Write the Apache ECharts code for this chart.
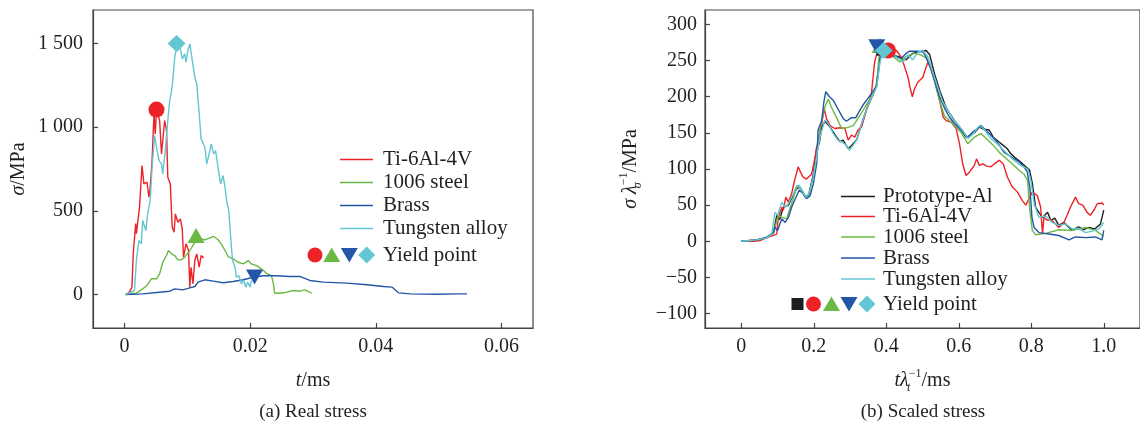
<!DOCTYPE html>
<html>
<head>
<meta charset="utf-8">
<title>Real and scaled stress</title>
<script src="https://cdn.jsdelivr.net/npm/echarts@6/dist/echarts.min.js"></script>
<style>
  html, body { margin: 0; padding: 0; background: #fff; }
  #chart { width: 1140px; height: 423px; }
</style>
</head>
<body>
<div id="chart"></div>
<script>
// ---------- (a) real stress: t [ms] vs sigma [MPa] ----------
const realMaterials = ['Ti-6Al-4V', '1006 steel', 'Brass', 'Tungsten alloy'];

const realTi = [[0.0002,0],[0.0008,14],[0.0012,44],[0.0014,245],[0.0018,424],[0.0019,364],[0.0024,522],[0.0028,771],[0.0031,661],[0.0036,671],[0.0039,581],[0.0041,641],[0.0044,800],[0.0047,1079],[0.0049,960],[0.0051,1100],[0.0056,1040],[0.0059,840],[0.0061,920],[0.0064,1040],[0.0067,980],[0.0069,700],[0.0073,661],[0.0076,402],[0.0079,372],[0.0081,482],[0.0085,432],[0.0089,452],[0.0092,392],[0.0094,223],[0.0098,303],[0.0102,263],[0.0104,44],[0.0106,163],[0.0109,64],[0.0112,203],[0.0115,243],[0.0119,163],[0.0122,233],[0.0126,219]];

const realSteel = [[0.0002,0],[0.0019,8],[0.0029,34],[0.0036,54],[0.0043,94],[0.0051,94],[0.0056,124],[0.0061,193],[0.0067,233],[0.0070,263],[0.0075,243],[0.0080,233],[0.0085,207],[0.0090,207],[0.0096,223],[0.0104,263],[0.0112,312],[0.0120,333],[0.0128,327],[0.0136,339],[0.0142,347],[0.0149,327],[0.0154,303],[0.0160,263],[0.0165,227],[0.0173,213],[0.0181,193],[0.0189,183],[0.0197,203],[0.0202,183],[0.0210,173],[0.0218,153],[0.0226,127],[0.0234,113],[0.0237,64],[0.0239,8],[0.0247,8],[0.0258,14],[0.0269,24],[0.0279,20],[0.0287,28],[0.0298,8]];

const realBrass = [[0.0002,0],[0.0029,4],[0.0056,14],[0.0072,20],[0.0080,34],[0.0093,28],[0.0104,40],[0.0112,48],[0.0117,74],[0.0128,88],[0.0141,80],[0.0157,70],[0.0173,78],[0.0189,88],[0.0205,103],[0.0221,112],[0.0242,112],[0.0263,108],[0.0279,108],[0.0295,84],[0.0316,74],[0.0354,68],[0.0386,58],[0.0412,48],[0.0426,44],[0.0436,10],[0.0455,4],[0.0497,2],[0.0529,4],[0.0545,4]];

const realTungsten = [[0.0002,0],[0.0016,24],[0.0019,203],[0.0023,323],[0.0027,303],[0.0029,442],[0.0034,382],[0.0037,482],[0.0041,562],[0.0044,760],[0.0048,950],[0.0051,880],[0.0055,800],[0.0059,781],[0.0061,721],[0.0065,860],[0.0069,1040],[0.0072,1159],[0.0075,1219],[0.0077,1278],[0.0080,1418],[0.0083,1478],[0.0085,1458],[0.0088,1488],[0.0092,1408],[0.0096,1438],[0.0098,1388],[0.0101,1458],[0.0104,1498],[0.0106,1448],[0.0112,1298],[0.0115,1259],[0.0119,1080],[0.0122,930],[0.0128,880],[0.0131,781],[0.0136,860],[0.0138,900],[0.0142,840],[0.0145,860],[0.0149,760],[0.0153,661],[0.0157,711],[0.0160,641],[0.0163,551],[0.0166,502],[0.0169,342],[0.0172,203],[0.0176,163],[0.0178,103],[0.0182,113],[0.0186,64],[0.0190,84],[0.0193,44],[0.0196,74],[0.0200,44],[0.0202,84]];

// yield points, same order as realMaterials
const realYield = [[0.0051,1105],[0.0114,352],[0.0207,105],[0.0083,1500]];

const realTimeTicks = [0, 0.02, 0.04, 0.06];
const realStressTicks = [0, 500, 1000, 1500];

// ---------- (b) scaled stress: t/lambda_t [ms] vs sigma/lambda_sigma [MPa] ----------
const scaledMaterials = ['Prototype-Al', 'Ti-6Al-4V', '1006 steel', 'Brass', 'Tungsten alloy'];

const scaledProto = [[0,0],[0.043,2],[0.071,5],[0.089,12],[0.098,36],[0.106,30],[0.116,47],[0.13,50],[0.144,64],[0.153,73],[0.162,75],[0.176,63],[0.185,62],[0.199,93],[0.208,130],[0.215,135],[0.222,158],[0.231,166],[0.245,158],[0.263,144],[0.272,138],[0.281,140],[0.295,128],[0.305,133],[0.318,140],[0.327,154],[0.338,172],[0.35,188],[0.363,202],[0.372,214],[0.38,245],[0.387,262],[0.4,264],[0.415,258],[0.437,255],[0.455,251],[0.473,260],[0.49,262],[0.51,264],[0.52,258],[0.533,232],[0.55,205],[0.565,185],[0.588,167],[0.605,156],[0.62,144],[0.632,146],[0.645,151],[0.657,158],[0.668,155],[0.684,154],[0.695,144],[0.712,137],[0.722,133],[0.734,128],[0.742,122],[0.757,115],[0.77,110],[0.785,103],[0.795,99],[0.803,80],[0.812,47],[0.821,40],[0.831,33],[0.845,40],[0.854,29],[0.865,32],[0.876,22],[0.89,26],[0.913,15],[0.93,20],[0.945,16],[0.959,19],[0.975,17],[0.991,24],[1.0,43]];

const scaledTi = [[0,0],[0.036,0],[0.052,1],[0.071,5],[0.098,10],[0.102,33],[0.112,47],[0.116,43],[0.123,61],[0.13,54],[0.139,66],[0.146,82],[0.157,103],[0.17,89],[0.18,86],[0.194,93],[0.2,107],[0.206,123],[0.212,140],[0.222,163],[0.229,184],[0.235,170],[0.245,160],[0.258,156],[0.272,157],[0.286,156],[0.295,140],[0.304,147],[0.313,144],[0.322,154],[0.332,158],[0.345,181],[0.359,204],[0.368,248],[0.374,260],[0.39,266],[0.41,266],[0.428,264],[0.441,255],[0.451,241],[0.46,227],[0.465,214],[0.472,200],[0.478,211],[0.487,220],[0.501,227],[0.51,241],[0.515,248],[0.524,241],[0.533,223],[0.547,195],[0.557,172],[0.565,167],[0.579,165],[0.593,156],[0.602,135],[0.611,107],[0.62,91],[0.63,96],[0.643,105],[0.649,114],[0.657,105],[0.666,107],[0.677,104],[0.689,103],[0.698,107],[0.712,112],[0.723,107],[0.734,89],[0.748,75],[0.762,68],[0.776,56],[0.785,50],[0.794,59],[0.803,68],[0.817,63],[0.826,47],[0.831,10],[0.835,33],[0.844,29],[0.855,30],[0.867,24],[0.876,19],[0.89,26],[0.899,36],[0.908,47],[0.922,61],[0.931,52],[0.942,50],[0.954,40],[0.963,36],[0.973,43],[0.982,52],[0.996,53],[1.0,50]];

const scaledSteel = [[0,0],[0.043,2],[0.071,5],[0.089,12],[0.093,19],[0.102,36],[0.112,33],[0.125,31],[0.139,52],[0.153,75],[0.162,75],[0.176,61],[0.185,61],[0.199,89],[0.208,117],[0.217,154],[0.231,186],[0.24,197],[0.25,184],[0.263,171],[0.277,156],[0.29,157],[0.309,160],[0.322,170],[0.336,181],[0.35,193],[0.363,202],[0.374,216],[0.38,255],[0.386,272],[0.4,262],[0.418,256],[0.437,248],[0.455,256],[0.478,260],[0.495,258],[0.511,253],[0.525,236],[0.547,195],[0.56,174],[0.574,167],[0.59,159],[0.606,151],[0.625,135],[0.643,144],[0.661,149],[0.68,140],[0.695,133],[0.712,123],[0.73,115],[0.748,107],[0.767,98],[0.78,93],[0.79,84],[0.796,43],[0.803,15],[0.812,9],[0.84,11],[0.876,16],[0.913,15],[0.95,19],[0.977,15],[1.0,7]];

const scaledBrass = [[0,0],[0.043,2],[0.071,6],[0.089,12],[0.093,19],[0.1,15],[0.112,31],[0.121,26],[0.13,33],[0.139,47],[0.151,61],[0.16,71],[0.17,66],[0.18,59],[0.19,63],[0.199,80],[0.208,107],[0.212,154],[0.222,167],[0.228,193],[0.233,207],[0.243,200],[0.254,195],[0.269,181],[0.281,170],[0.29,166],[0.304,171],[0.316,171],[0.327,181],[0.338,190],[0.35,198],[0.363,207],[0.374,216],[0.38,240],[0.385,262],[0.395,266],[0.41,262],[0.419,257],[0.428,255],[0.441,253],[0.455,260],[0.464,263],[0.478,263],[0.49,263],[0.501,262],[0.51,255],[0.524,237],[0.533,223],[0.547,200],[0.561,184],[0.574,172],[0.588,163],[0.602,156],[0.615,149],[0.624,144],[0.638,151],[0.652,156],[0.661,160],[0.67,156],[0.684,149],[0.698,142],[0.712,133],[0.725,123],[0.739,119],[0.753,114],[0.766,110],[0.78,103],[0.789,96],[0.796,75],[0.802,33],[0.808,19],[0.821,12],[0.849,10],[0.876,8],[0.904,2],[0.922,6],[0.95,5],[0.977,6],[0.995,2],[1.0,15]];

const scaledTungsten = [[0,0],[0.043,2],[0.071,5],[0.084,10],[0.093,40],[0.1,36],[0.112,54],[0.121,47],[0.13,52],[0.144,66],[0.153,77],[0.16,77],[0.171,66],[0.18,61],[0.19,70],[0.199,89],[0.208,117],[0.217,144],[0.231,168],[0.24,163],[0.254,149],[0.267,140],[0.281,136],[0.29,133],[0.298,126],[0.309,133],[0.318,140],[0.327,154],[0.338,172],[0.35,188],[0.363,202],[0.374,214],[0.382,245],[0.39,263],[0.41,262],[0.425,256],[0.446,248],[0.46,258],[0.473,251],[0.488,262],[0.501,264],[0.515,255],[0.533,227],[0.555,194],[0.583,170],[0.61,154],[0.625,142],[0.64,149],[0.657,160],[0.67,155],[0.689,142],[0.71,133],[0.73,123],[0.75,113],[0.771,105],[0.79,100],[0.799,84],[0.808,52],[0.821,33],[0.84,35],[0.858,26],[0.876,22],[0.895,24],[0.913,17],[0.93,18],[0.95,12],[0.968,14],[0.986,17],[1.0,26]];

// yield points, same order as scaledMaterials
const scaledYield = [[0.39,265],[0.405,264],[0.383,271],[0.374,269],[0.393,264]];

const scaledTimeTicks = [0, 0.2, 0.4, 0.6, 0.8, 1.0];
const scaledStressTicks = [-100, -50, 0, 50, 100, 150, 200, 250, 300];

// ---------- styling ----------
const FONT = '"Liberation Serif", "Times New Roman", serif';
const INK = '#231f20';
const FRAME = '#444';
const COLORS = {
  'Prototype-Al': '#1e1e1e',
  'Ti-6Al-4V': '#ec2227',
  '1006 steel': '#6bb843',
  'Brass': '#2456a8',
  'Tungsten alloy': '#62c6d3'
};
const MARKERS = {
  'Prototype-Al': { symbol: 'rect', size: [12, 12], rotate: 0 },
  'Ti-6Al-4V': { symbol: 'circle', size: 16, rotate: 0 },
  '1006 steel': { symbol: 'triangle', size: [17, 15], rotate: 0 },
  'Brass': { symbol: 'triangle', size: [17, 15], rotate: 180 },
  'Tungsten alloy': { symbol: 'diamond', size: [18, 17], rotate: 0 }
};

const realCurves = [realTi, realSteel, realBrass, realTungsten];
const scaledCurves = [scaledProto, scaledTi, scaledSteel, scaledBrass, scaledTungsten];

const baseText = { fontFamily: FONT, color: INK };
const richParts = {
  i: { fontFamily: FONT, fontSize: 20, fontStyle: 'italic', color: INK, lineHeight: 26 },
  n: { fontFamily: FONT, fontSize: 20, color: INK, lineHeight: 26 },
  sub: { fontFamily: FONT, fontSize: 12, fontStyle: 'italic', color: INK, verticalAlign: 'bottom', lineHeight: 26, width: 0 },
  sup: { fontFamily: FONT, fontSize: 12, color: INK, verticalAlign: 'top', lineHeight: 26 }
};

function thousands(v) {
  const s = String(v);
  return s.length > 3 ? s.slice(0, -3) + ' ' + s.slice(-3) : s;
}
function minusSign(v) {
  return v < 0 ? '\u2212' + Math.abs(v) : String(v);
}

function valueAxis(grid, min, max, ticks, fmt, margin, extra) {
  return Object.assign({
    type: 'value', gridIndex: grid, min: min, max: max,
    axisLine: { show: true, onZero: false, lineStyle: { color: FRAME, width: 1.2 } },
    axisTick: { show: true, inside: true, length: 5, customValues: ticks, lineStyle: { color: FRAME, width: 1.2 } },
    axisLabel: { customValues: ticks, formatter: fmt, margin: margin, fontSize: 20, fontFamily: FONT, color: INK },
    splitLine: { show: false },
    nameLocation: 'middle',
    nameTextStyle: Object.assign({ fontSize: 20, rich: richParts }, baseText)
  }, extra);
}

function lineSeries(name, data, axis) {
  return {
    type: 'line', name: name, data: data,
    xAxisIndex: axis, yAxisIndex: axis,
    showSymbol: false, symbol: 'none', smooth: false,
    lineStyle: { color: COLORS[name], width: 1.4 },
    itemStyle: { color: COLORS[name] },
    z: 2, animation: false, silent: true
  };
}

function yieldSeries(name, point, axis, z) {
  const m = MARKERS[name];
  return {
    type: 'scatter', name: name + ' yield', data: [point],
    xAxisIndex: axis, yAxisIndex: axis,
    symbol: m.symbol, symbolSize: m.size, symbolRotate: m.rotate,
    itemStyle: { color: COLORS[name], opacity: 1 },
    z: z, animation: false, silent: true
  };
}

// legend block: line samples, names, and a row of yield-point symbols
function legendBlock(names, lineX0, lineX1, textX, rowYs, symbolXs, symbolY) {
  const els = [];
  names.forEach((name, k) => {
    els.push({ type: 'line', shape: { x1: lineX0, y1: rowYs[k], x2: lineX1, y2: rowYs[k] },
      style: { stroke: COLORS[name], lineWidth: 1.5 }, silent: true });
    els.push({ type: 'text', x: textX, y: rowYs[k],
      style: { text: name, fontFamily: FONT, fontSize: 21, fill: INK, align: 'left', verticalAlign: 'middle', textAlign: 'left', textVerticalAlign: 'middle' }, silent: true });
  });
  names.forEach((name, k) => {
    const cx = symbolXs[k], cy = symbolY, c = COLORS[name];
    const sym = MARKERS[name].symbol, rot = MARKERS[name].rotate;
    if (sym === 'rect') {
      els.push({ type: 'rect', shape: { x: cx - 6, y: cy - 6, width: 12, height: 12 }, style: { fill: c }, silent: true });
    } else if (sym === 'circle') {
      els.push({ type: 'circle', shape: { cx: cx, cy: cy, r: 7.5 }, style: { fill: c }, silent: true });
    } else if (sym === 'triangle') {
      const pts = rot === 180
        ? [[cx - 8.5, cy - 7], [cx + 8.5, cy - 7], [cx, cy + 7.5]]
        : [[cx - 8.5, cy + 7], [cx + 8.5, cy + 7], [cx, cy - 7.5]];
      els.push({ type: 'polygon', shape: { points: pts }, style: { fill: c }, silent: true });
    } else {
      els.push({ type: 'polygon', shape: { points: [[cx, cy - 8.5], [cx + 8.5, cy], [cx, cy + 8.5], [cx - 8.5, cy]] }, style: { fill: c }, silent: true });
    }
  });
  els.push({ type: 'text', x: textX, y: symbolY,
    style: { text: 'Yield point', fontFamily: FONT, fontSize: 21, fill: INK, align: 'left', verticalAlign: 'middle', textAlign: 'left', textVerticalAlign: 'middle' }, silent: true });
  return els;
}

function caption(text, x, y) {
  return { type: 'text', x: x, y: y,
    style: { text: text, fontFamily: FONT, fontSize: 19, fill: INK, align: 'center', verticalAlign: 'middle', textAlign: 'center', textVerticalAlign: 'middle' }, silent: true };
}

const series = [];
realMaterials.forEach((name, k) => series.push(lineSeries(name, realCurves[k], 0)));
scaledMaterials.forEach((name, k) => series.push(lineSeries(name, scaledCurves[k], 1)));
realMaterials.forEach((name, k) => series.push(yieldSeries(name, realYield[k], 0, 5 + k)));
scaledMaterials.forEach((name, k) => series.push(yieldSeries(name, scaledYield[k], 1, 5 + k)));

const chart = echarts.init(document.getElementById('chart'), null, { renderer: 'canvas' });
chart.setOption({
  animation: false,
  backgroundColor: '#fff',
  grid: [
    { left: 93, top: 10, width: 440, height: 318, show: true, borderColor: FRAME, borderWidth: 1.2, backgroundColor: 'transparent' },
    { left: 705, top: 10, width: 437, height: 318, show: true, borderColor: FRAME, borderWidth: 1.2, backgroundColor: 'transparent' }
  ],
  xAxis: [
    valueAxis(0, -0.005, 0.065, realTimeTicks, v => v === 0 ? '0' : v.toFixed(2), 9,
      { name: '{i|t}{n|/ms}', nameGap: 40 }),
    valueAxis(1, -0.1, 1.1, scaledTimeTicks, v => v === 0 ? '0' : v.toFixed(1), 9,
      { name: '{i|t\u03bb}{sub|t}{sup|\u22121}{n|/ms}', nameGap: 40 })
  ],
  yAxis: [
    valueAxis(0, -200, 1700, realStressTicks, thousands, 10,
      { name: '{i|\u03c3}{n|/MPa}', nameGap: 61 }),
    valueAxis(1, -120, 320, scaledStressTicks, minusSign, 8,
      { name: '{i|\u03c3}{n| }{i|\u03bb}{sub|\u03c3}{sup|\u22121}{n|/MPa}', nameGap: 61 })
  ],
  series: series,
  graphic: {
    elements: [].concat(
      legendBlock(realMaterials, 340, 373, 383, [159.5, 182.5, 205.5, 228.5], [315, 331.7, 349.3, 366.7], 255),
      legendBlock(scaledMaterials, 841, 875, 883, [196.5, 216.5, 237, 258, 279], [797.5, 813.5, 831.5, 849, 867], 304),
      [caption('(a) Real stress', 313, 412), caption('(b) Scaled stress', 923, 412)]
    )
  }
});
</script>
</body>
</html>
